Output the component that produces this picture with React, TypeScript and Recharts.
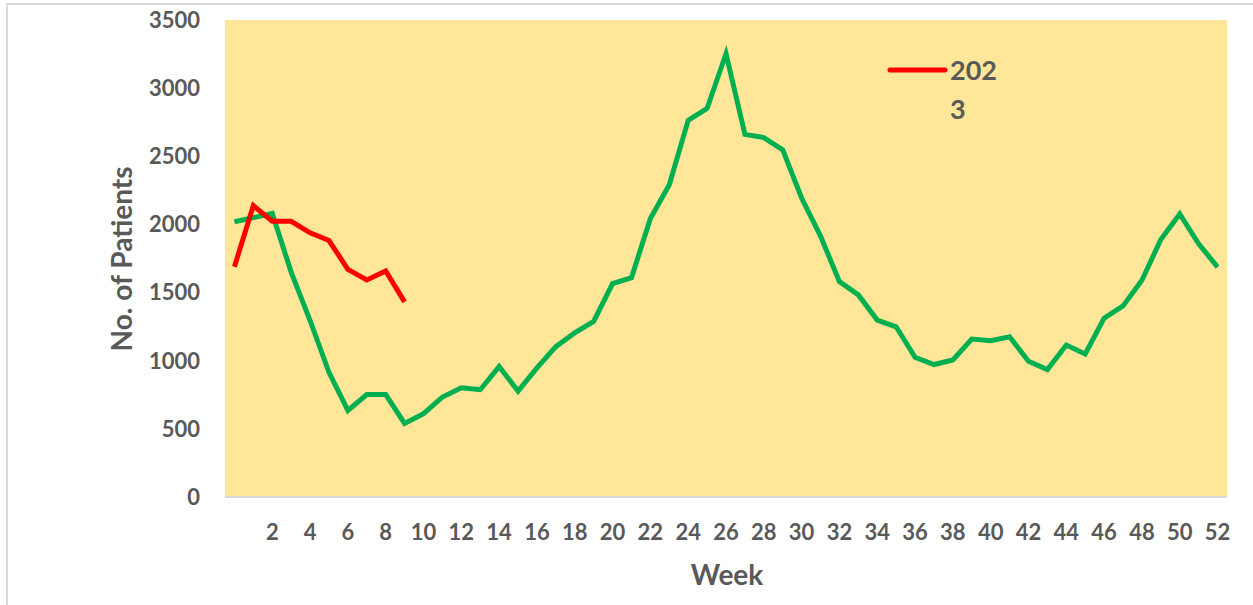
import React from 'react';
import { LineChart, Line, XAxis, YAxis, CartesianGrid, Legend } from 'recharts';

const weekLabels = ['', '1', '2', '3', '4', '5', '6', '7', '8', '9', '10', '11', '12', '13', '14', '15', '16', '17', '18', '19', '20', '21', '22', '23', '24', '25', '26', '27', '28', '29', '30', '31', '32', '33', '34', '35', '36', '37', '38', '39', '40', '41', '42', '43', '44', '45', '46', '47', '48', '49', '50', '51', '52'];

const series2022 = [2020, 2050, 2080, 1650, 1295, 915, 635, 752, 752, 540, 611, 733, 801, 787, 957, 777, 947, 1103, 1205, 1288, 1566, 1609, 2043, 2291, 2764, 2851, 3253, 2661, 2637, 2547, 2194, 1914, 1580, 1483, 1298, 1249, 1025, 972, 1006, 1159, 1147, 1176, 996, 935, 1115, 1049, 1312, 1402, 1590, 1890, 2077, 1858, 1687];

const series2023 = [1690, 2138, 2023, 2023, 1938, 1882, 1670, 1592, 1658, 1432];

const yTicks = [0, 500, 1000, 1500, 2000, 2500, 3000, 3500];

const data = weekLabels.map((w, i) => ({
  week: w,
  y2022: series2022[i],
  y2023: i < series2023.length ? series2023[i] : null,
}));

const FONT = 'Lato, "Open Sans", sans-serif';
const GRAY = '#595959';

const LegendContent = (props: any) => {
  const items = (props.payload || []).filter((p: any) => p.type !== 'none');
  return (
    <svg width={150} height={90} style={{ overflow: 'visible', display: 'block' }}>
      {items.map((p: any, i: number) => {
        const label = String(p.value);
        return (
          <g key={i}>
            <line x1={10} y1={25} x2={65} y2={25} stroke={p.color} strokeWidth={5} strokeLinecap="round" />
            <text x={70} y={35} fontFamily={FONT} fontWeight={700} fontSize={27} fill={GRAY}>{label.slice(0, 3)}</text>
            <text x={70} y={74} fontFamily={FONT} fontWeight={700} fontSize={27} fill={GRAY}>{label.slice(3)}</text>
          </g>
        );
      })}
    </svg>
  );
};

export default function App() {
  return (
    <div style={{ position: 'absolute', left: 0, top: 0, width: 1253, height: 605, background: '#fff' }}>
      <div style={{ position: 'absolute', left: 6, top: 3, width: 1247, height: 602, borderLeft: '2px solid #D9D9D9', borderTop: '2px solid #D9D9D9', boxSizing: 'border-box' }} />
      <div style={{ position: 'absolute', left: 0, top: 0 }}>
        <LineChart width={1253} height={605} data={data} margin={{ top: 20, right: 26, bottom: 0, left: 0 }}>
          <CartesianGrid horizontal={false} vertical={false} fill="#FFE699" />
          <XAxis
            dataKey="week"
            interval={1}
            height={108}
            padding={{ left: 9.45, right: 9.45 }}
            axisLine={{ stroke: '#D9D9D9', strokeWidth: 2 }}
            tickLine={false}
            tickMargin={21}
            tick={{ fill: GRAY, fontFamily: FONT, fontWeight: 700, fontSize: 22 }}
          />
          <YAxis
            width={225}
            domain={[0, 3500]}
            ticks={yTicks}
            axisLine={false}
            tickLine={false}
            tickMargin={19}
            tick={{ fill: GRAY, fontFamily: FONT, fontWeight: 700, fontSize: 22 }}
          />
          <Legend
            content={<LegendContent />}
            wrapperStyle={{ position: 'absolute', left: 880, top: 45, width: 150, height: 0, overflow: 'visible' }}
          />
          <Line type="linear" dataKey="y2022" name="2022" stroke="#00B050" strokeWidth={5} dot={false} legendType="none" isAnimationActive={false} />
          <Line type="linear" dataKey="y2023" name="2023" stroke="#FF0000" strokeWidth={5} dot={false} connectNulls={false} isAnimationActive={false} />
        </LineChart>
      </div>
      <svg width={1253} height={605} style={{ position: 'absolute', left: 0, top: 0, pointerEvents: 'none' }}>
        <text x={727} y={585} textAnchor="middle" fontFamily={FONT} fontWeight={700} fontSize={28} fill={GRAY}>Week</text>
        <text x={132} y={259} textAnchor="middle" transform="rotate(-90, 132, 259)" fontFamily={FONT} fontWeight={700} fontSize={28} fill={GRAY}>No. of Patients</text>
      </svg>
    </div>
  );
}
